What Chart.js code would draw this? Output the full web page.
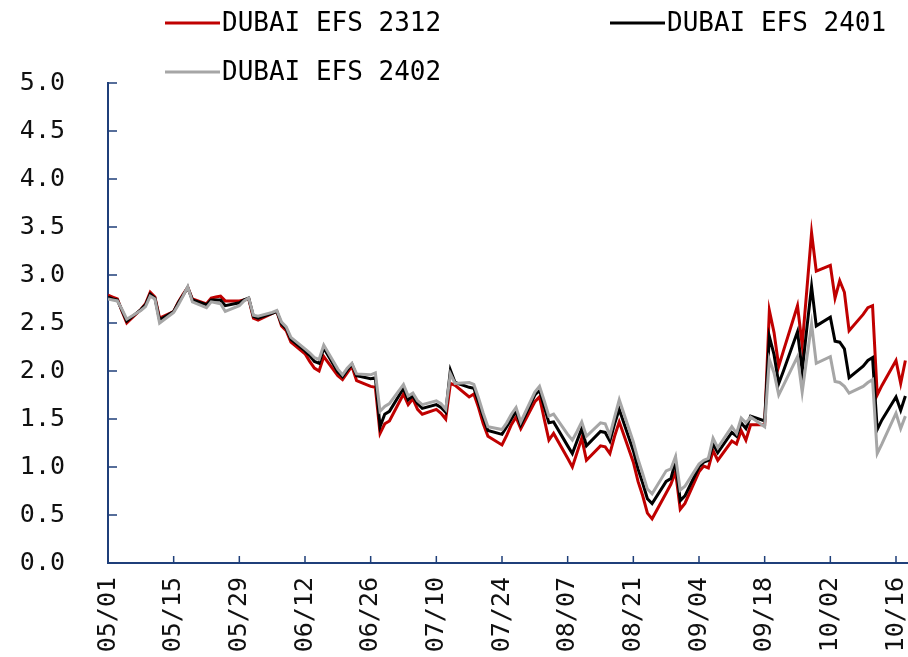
<!DOCTYPE html>
<html>
<head>
<meta charset="utf-8">
<script src="https://cdn.jsdelivr.net/npm/chart.js@4.4.0/dist/chart.umd.min.js"></script>
<style>
  html, body { margin: 0; padding: 0; background: #fff; overflow: hidden; }
  #wrap { width: 908px; height: 657px; overflow: hidden; }
</style>
</head>
<body>
<div id="wrap"><canvas id="chart" width="940" height="657"></canvas></div>
<script>
const seriesNames = ['DUBAI EFS 2312', 'DUBAI EFS 2401', 'DUBAI EFS 2402'];
const seriesColors = ['#c00000', '#000000', '#a6a6a6'];

const tickLabels = ['05/01', '05/15', '05/29', '06/12', '06/26', '07/10', '07/24',
    '08/07', '08/21', '09/04', '09/18', '10/02', '10/16'];

const dates = [
    '05/01', '05/02', '05/03', '05/04', '05/05',
    '05/08', '05/09', '05/10', '05/11', '05/12',
    '05/15', '05/16', '05/17', '05/18', '05/19',
    '05/22', '05/23', '05/24', '05/25', '05/26',
    '05/29', '05/30', '05/31', '06/01', '06/02',
    '06/05', '06/06', '06/07', '06/08', '06/09',
    '06/12', '06/13', '06/14', '06/15', '06/16',
    '06/19', '06/20', '06/21', '06/22', '06/23',
    '06/26', '06/27', '06/28', '06/29', '06/30',
    '07/03', '07/04', '07/05', '07/06', '07/07',
    '07/10', '07/11', '07/12', '07/13', '07/14',
    '07/17', '07/18', '07/19', '07/20', '07/21',
    '07/24', '07/25', '07/26', '07/27', '07/28',
    '07/31', '08/01', '08/02', '08/03', '08/04',
    '08/07', '08/08', '08/09', '08/10', '08/11',
    '08/14', '08/15', '08/16', '08/17', '08/18',
    '08/21', '08/22', '08/23', '08/24', '08/25',
    '08/28', '08/29', '08/30', '08/31', '09/01',
    '09/04', '09/05', '09/06', '09/07', '09/08',
    '09/11', '09/12', '09/13', '09/14', '09/15',
    '09/18', '09/19', '09/20', '09/21', '09/22',
    '09/25', '09/26', '09/27', '09/28', '09/29',
    '10/02', '10/03', '10/04', '10/05', '10/06',
    '10/09', '10/10', '10/11', '10/12', '10/13',
    '10/16', '10/17', '10/18'
];

const efs2312 = [
    2.79, 2.77, 2.75, 2.62, 2.50,
    2.64, 2.70, 2.82, 2.77, 2.55,
    2.62, 2.72, 2.80, 2.87, 2.75,
    2.70, 2.76, 2.77, 2.78, 2.73,
    2.73, 2.74, 2.75, 2.55, 2.53,
    2.60, 2.62, 2.47, 2.42, 2.30,
    2.18, 2.10, 2.03, 2.00, 2.15,
    1.95, 1.91, 1.98, 2.05, 1.90,
    1.84, 1.83, 1.35, 1.45, 1.48,
    1.76, 1.65, 1.71, 1.60, 1.55,
    1.60, 1.56, 1.50, 1.87, 1.85,
    1.73, 1.76, 1.62, 1.45, 1.32,
    1.23, 1.33, 1.44, 1.52, 1.40,
    1.68, 1.73, 1.50, 1.28, 1.35,
    1.09, 1.00, 1.15, 1.30, 1.07,
    1.22, 1.21, 1.14, 1.32, 1.47,
    1.05, 0.85, 0.70, 0.52, 0.46,
    0.73, 0.82, 0.95, 0.56, 0.62,
    0.95, 1.01, 0.99, 1.17, 1.07,
    1.27, 1.24, 1.38, 1.28, 1.44,
    1.44, 2.63, 2.40, 2.05, 2.21,
    2.68, 2.27, 2.85, 3.44, 3.04,
    3.10, 2.76, 2.94, 2.82, 2.42,
    2.59, 2.66, 2.68, 1.75, 1.85,
    2.11, 1.87, 2.11
];

const efs2401 = [
    2.77, 2.75, 2.74, 2.63, 2.52,
    2.64, 2.69, 2.80, 2.76, 2.53,
    2.62, 2.71, 2.79, 2.87, 2.74,
    2.69, 2.74, 2.74, 2.74, 2.68,
    2.71, 2.74, 2.76, 2.57, 2.55,
    2.60, 2.62, 2.49, 2.44, 2.33,
    2.21, 2.16, 2.10, 2.08, 2.24,
    1.99, 1.94, 2.01, 2.07, 1.95,
    1.92, 1.93, 1.42, 1.55, 1.58,
    1.82, 1.70, 1.74, 1.66, 1.61,
    1.65, 1.62, 1.57, 2.01, 1.88,
    1.83, 1.82, 1.68, 1.52, 1.38,
    1.34, 1.42, 1.50, 1.58, 1.44,
    1.75, 1.80, 1.63, 1.46, 1.47,
    1.22, 1.14, 1.27, 1.40, 1.22,
    1.37, 1.36, 1.27, 1.45, 1.60,
    1.17, 0.98, 0.83, 0.67, 0.62,
    0.85, 0.88, 1.06, 0.65, 0.70,
    1.00, 1.05, 1.07, 1.24, 1.15,
    1.36, 1.32, 1.46, 1.40, 1.53,
    1.48, 2.36, 2.17, 1.87, 2.00,
    2.41, 2.00, 2.45, 2.88, 2.47,
    2.56, 2.31, 2.30, 2.23, 1.93,
    2.05, 2.11, 2.14, 1.39, 1.49,
    1.73, 1.59, 1.74
];

const efs2402 = [
    2.75, 2.74, 2.73, 2.64, 2.54,
    2.63, 2.67, 2.78, 2.75, 2.50,
    2.61, 2.69, 2.78, 2.88, 2.72,
    2.66, 2.72, 2.71, 2.70, 2.62,
    2.68, 2.73, 2.76, 2.58, 2.57,
    2.61, 2.63, 2.51, 2.46, 2.35,
    2.23, 2.19, 2.14, 2.12, 2.27,
    2.02, 1.96, 2.03, 2.08, 1.97,
    1.96, 1.98, 1.58, 1.63, 1.66,
    1.86, 1.74, 1.77, 1.69, 1.65,
    1.69, 1.66, 1.60, 1.97, 1.87,
    1.88, 1.86, 1.72, 1.56, 1.42,
    1.39, 1.46, 1.55, 1.62, 1.47,
    1.78, 1.84, 1.69, 1.53, 1.55,
    1.34, 1.28, 1.37, 1.47, 1.32,
    1.46, 1.45, 1.33, 1.52, 1.70,
    1.26, 1.08, 0.93, 0.77, 0.72,
    0.96, 0.98, 1.11, 0.76, 0.80,
    1.03, 1.07, 1.09, 1.30, 1.20,
    1.42, 1.35, 1.51, 1.46, 1.52,
    1.42, 2.12, 1.98, 1.75, 1.85,
    2.15, 1.78, 2.14, 2.49, 2.08,
    2.15, 1.89, 1.88, 1.84, 1.77,
    1.84, 1.88, 1.91, 1.14, 1.24,
    1.56, 1.40, 1.53
];

const axisColor = '#1f3f7a';
const monoFont = "'DejaVu Sans Mono', 'Liberation Mono', monospace";

// jours depuis le 1er mai (axe en jours calendaires)
function dayOf(label) {
    const [m, d] = label.split('/').map(Number);
    return (Date.UTC(2023, m - 1, d) - Date.UTC(2023, 4, 1)) / 86400000;
}

const tickDays = tickLabels.map(dayOf);

function toPoints(values) {
    return dates.map((d, i) => ({x: dayOf(d), y: values[i]}));
}

// petits traits de graduation tournés vers l'intérieur
const innerTicks = {
    id: 'innerTicks',
    beforeDatasetsDraw(chart) {
        const {ctx, chartArea, scales} = chart;
        ctx.save();
        ctx.strokeStyle = axisColor;
        ctx.lineWidth = 1.5;
        ctx.beginPath();
        scales.y.ticks.forEach(t => {
            const py = scales.y.getPixelForValue(t.value);
            ctx.moveTo(chartArea.left, py);
            ctx.lineTo(chartArea.left + 9, py);
        });
        scales.x.ticks.forEach(t => {
            const px = scales.x.getPixelForValue(t.value);
            ctx.moveTo(px, chartArea.bottom);
            ctx.lineTo(px, chartArea.bottom - 7);
        });
        ctx.stroke();
        ctx.restore();
    }
};

// légende dessinée à la main (deux colonnes, alignée à gauche)
const legendSlots = [{x: 165, y: 23}, {x: 610, y: 23}, {x: 165, y: 72}];
const manualLegend = {
    id: 'manualLegend',
    afterDraw(chart) {
        const ctx = chart.ctx;
        ctx.save();
        ctx.font = '26px ' + monoFont;
        ctx.textBaseline = 'middle';
        ctx.textAlign = 'left';
        chart.data.datasets.forEach((ds, i) => {
            const s = legendSlots[i];
            ctx.strokeStyle = ds.borderColor;
            ctx.lineWidth = 3;
            ctx.beginPath();
            ctx.moveTo(s.x, s.y);
            ctx.lineTo(s.x + 55, s.y);
            ctx.stroke();
            ctx.fillStyle = '#000';
            ctx.fillText(ds.label, s.x + 57, s.y + 1);
        });
        ctx.restore();
    }
};

const seriesValues = [efs2312, efs2401, efs2402];

new Chart(document.getElementById('chart'), {
    type: 'line',
    data: {
        datasets: seriesNames.map((name, i) => ({
            label: name,
            data: toPoints(seriesValues[i]),
            borderColor: seriesColors[i],
            backgroundColor: seriesColors[i],
            borderWidth: 3,
            pointRadius: 0,
            tension: 0,
            order: 2 - i
        }))
    },
    options: {
        responsive: false,
        animation: false,
        layout: {padding: {top: 83, right: 0, left: 0, bottom: 0}},
        plugins: {
            legend: {display: false},
            tooltip: {enabled: false}
        },
        scales: {
            x: {
                type: 'linear',
                min: 0,
                max: 177,
                afterBuildTicks: s => { s.ticks = tickDays.map(v => ({value: v})); },
                afterFit: s => { s.height = 94; },
                grid: {display: false, drawTicks: false, tickLength: 0},
                border: {display: true, color: axisColor, width: 2},
                ticks: {
                    autoSkip: false,
                    minRotation: 90,
                    maxRotation: 90,
                    padding: 14,
                    color: '#111',
                    font: {family: monoFont, size: 25},
                    callback: v => tickLabels[tickDays.indexOf(v)]
                }
            },
            y: {
                min: 0,
                max: 5,
                afterFit: s => { s.width = 108; },
                grid: {display: false, drawTicks: false, tickLength: 0},
                border: {display: true, color: axisColor, width: 2},
                ticks: {
                    stepSize: 0.5,
                    padding: 43,
                    color: '#111',
                    font: {family: monoFont, size: 25},
                    callback: v => v.toFixed(1)
                }
            }
        }
    },
    plugins: [innerTicks, manualLegend]
});
</script>
</body>
</html>
